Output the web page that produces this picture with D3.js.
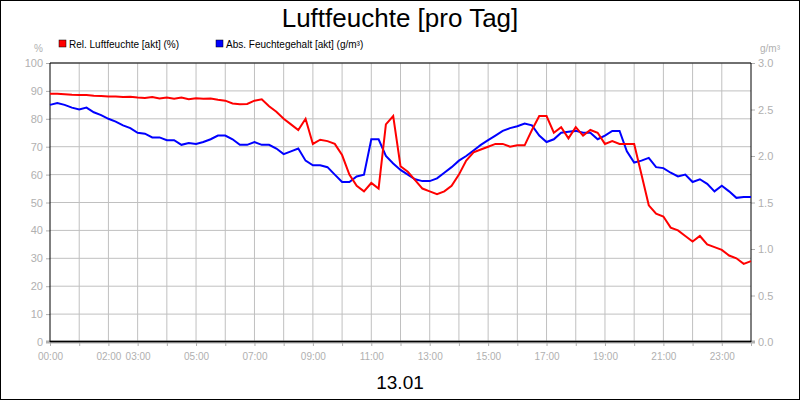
<!DOCTYPE html>
<html><head><meta charset="utf-8">
<script src="https://cdn.jsdelivr.net/npm/d3@7"></script>
<style>body{margin:0;background:#fff}svg{display:block;font-family:"Liberation Sans",Arial,sans-serif}</style>
</head><body><svg id="c" width="800" height="400"></svg>
<script>
const hours = d3.range(0, 24.01, 0.25);
const relHumidity = [
89,89,88.8,88.6,88.5,88.5,88.3,88.2,
88,88,87.8,87.9,87.6,87.5,87.8,87.3,
87.6,87.2,87.6,87,87.4,87.2,87.3,86.8,
86.5,85.5,85.2,85.3,86.5,87,84.5,82.5,
80,78,76,80,71,72.5,72,71,
67,60,56,54,57,55,78,81,
63,61,58,55,54,53,54,56,
60,65,68,69,70,71,71,70,
70.5,70.5,76,81,81,75,77,73,
77,74,76,75,71,72,71,71,
71,60,49,46,45,41,40,38,
36,38,35,34,33,31,30,28,
29,29.5,30
];
const absHumidity = [
2.55,2.57,2.55,2.52,2.50,2.52,2.47,2.44,
2.40,2.37,2.33,2.30,2.25,2.24,2.20,2.20,
2.17,2.17,2.12,2.14,2.13,2.15,2.18,2.22,
2.22,2.18,2.12,2.12,2.15,2.12,2.12,2.08,
2.02,2.05,2.08,1.95,1.90,1.90,1.88,1.80,
1.72,1.72,1.78,1.80,2.18,2.18,2.00,1.92,
1.85,1.80,1.75,1.73,1.73,1.76,1.82,1.88,
1.95,2.00,2.06,2.12,2.17,2.22,2.27,2.30,
2.32,2.35,2.33,2.22,2.15,2.18,2.25,2.26,
2.27,2.25,2.25,2.18,2.22,2.27,2.27,2.05,
1.93,1.95,1.98,1.88,1.87,1.82,1.78,1.80,
1.72,1.75,1.70,1.62,1.68,1.62,1.55,1.56,
1.56
];
const hourTickLabels = [0,2,3,5,7,9,11,13,15,17,19,21,23];
const leftTicks = d3.range(0,101,10);
const rightTicks = d3.range(0,3.01,0.5);

const svg = d3.select("#c");
const L=50,R=751,T=63,B=342;
svg.append("rect").attr("x",0.5).attr("y",0.5).attr("width",799).attr("height",399).attr("fill","#fff").attr("stroke","#000");
const x=d3.scaleLinear().domain([0,24]).range([L,R]);
const yl=d3.scaleLinear().domain([0,100]).range([B,T]);
const yr=d3.scaleLinear().domain([0,3]).range([B,T]);
const g=svg.append("g");
d3.range(1,24).forEach(h=>g.append("line").attr("x1",x(h)).attr("x2",x(h)).attr("y1",T).attr("y2",B).attr("stroke","#c0c0c0"));
leftTicks.slice(1).forEach(v=>g.append("line").attr("x1",L).attr("x2",R).attr("y1",yl(v)).attr("y2",yl(v)).attr("stroke","#c0c0c0"));
const tc="#b0b0b0";
const ax=svg.append("g").attr("transform",`translate(0,${B})`).call(d3.axisBottom(x).tickValues(d3.range(0,25)).tickSize(4).tickFormat(h=>hourTickLabels.includes(h)?String(h).padStart(2,"0")+":00":""));
ax.select(".domain").remove();
ax.selectAll("line").attr("stroke",tc);
ax.selectAll("text").attr("fill",tc).attr("font-size",10).attr("dy","1.1em");
const al=svg.append("g").attr("transform",`translate(${L},0)`).call(d3.axisLeft(yl).tickValues(leftTicks).tickSize(4));
al.select(".domain").remove();al.selectAll("line").attr("stroke",tc);al.selectAll("text").attr("fill",tc).attr("font-size",11);
const ar=svg.append("g").attr("transform",`translate(${R},0)`).call(d3.axisRight(yr).tickValues(rightTicks).tickSize(4).tickFormat(d3.format(".1f")));
ar.select(".domain").remove();ar.selectAll("line").attr("stroke",tc);ar.selectAll("text").attr("fill",tc).attr("font-size",11);
svg.append("line").attr("x1",L-4).attr("x2",R+4).attr("y1",B).attr("y2",B).attr("stroke","#b0b0b0").attr("stroke-width",3);
svg.append("line").attr("x1",L).attr("x2",L).attr("y1",T).attr("y2",B).attr("stroke","#000");
svg.append("line").attr("x1",R).attr("x2",R).attr("y1",T).attr("y2",B).attr("stroke","#000");
svg.append("line").attr("x1",L).attr("x2",R).attr("y1",T).attr("y2",T).attr("stroke","#000");
svg.append("line").attr("x1",L).attr("x2",R).attr("y1",B-0.5).attr("y2",B-0.5).attr("stroke","#000").attr("stroke-width",1.5);
const lineRel=d3.line().x((d,i)=>x(hours[i])).y(d=>yl(d));
const lineAbs=d3.line().x((d,i)=>x(hours[i])).y(d=>yr(d));
svg.append("path").datum(absHumidity).attr("d",lineAbs).attr("fill","none").attr("stroke","#0000ff").attr("stroke-width",2);
svg.append("path").datum(relHumidity).attr("d",lineRel).attr("fill","none").attr("stroke","#ff0000").attr("stroke-width",2);
svg.append("text").attr("x",400).attr("y",27).attr("text-anchor","middle").attr("font-size",26).text("Luftfeuchte [pro Tag]");
svg.append("text").attr("x",400).attr("y",389).attr("text-anchor","middle").attr("font-size",19).text("13.01");
svg.append("text").attr("x",43).attr("y",52).attr("text-anchor","end").attr("fill",tc).attr("font-size",10).text("%");
svg.append("text").attr("x",770).attr("y",52).attr("text-anchor","middle").attr("fill",tc).attr("font-size",10).text("g/m³");
[["Rel. Luftfeuchte [akt] (%)","#ff0000",59],["Abs. Feuchtegehalt [akt] (g/m³)","#0000ff",216]].forEach(([t,c,lx])=>{
 svg.append("rect").attr("x",lx).attr("y",40).attr("width",7).attr("height",7).attr("fill",c).attr("stroke","#000").attr("stroke-width",0.5);
 svg.append("text").attr("x",lx+10).attr("y",48).attr("font-size",10).text(t);
});
</script></body></html>
